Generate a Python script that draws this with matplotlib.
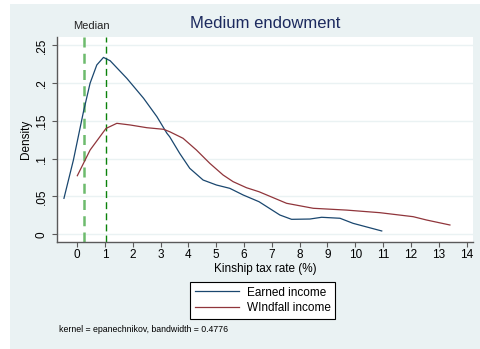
import matplotlib
matplotlib.use("Agg")
import matplotlib.pyplot as plt
from matplotlib.patches import Rectangle

plt.rcParams['font.family'] = ['Liberation Sans', 'DejaVu Sans']

# Kernel density estimates of the kinship tax rate (%)
earned_x = [-0.47, -0.13, 0.23, 0.47, 0.71, 0.95, 1.19, 1.79, 2.39, 2.87, 3.23, 3.33, 3.69,
            4.05, 4.53, 5.01, 5.49, 5.97, 6.54, 7.29, 7.71, 8.37, 8.79, 9.45, 9.92, 10.95]
earned_y = [0.0476, 0.0983, 0.162, 0.200, 0.224, 0.234, 0.2296, 0.2063, 0.180, 0.1556, 0.1336, 0.129, 0.107,
            0.0873, 0.0718, 0.0652, 0.0608, 0.052, 0.0431, 0.0255, 0.0198, 0.0202, 0.0225, 0.0212, 0.0145, 0.0044]

windfall_x = [0.01, 0.47, 1.04, 1.43, 1.91, 2.51, 3.11, 3.33, 3.81, 4.29, 4.77, 5.25, 5.61,
              6.09, 6.54, 7.53, 8.49, 9.69, 10.88, 12.08, 12.56, 13.4]
windfall_y = [0.0775, 0.1115, 0.140, 0.1468, 0.1446, 0.141, 0.1389, 0.1357, 0.127, 0.1115, 0.0939, 0.0784, 0.0696,
              0.0616, 0.0563, 0.041, 0.0344, 0.032, 0.0286, 0.0233, 0.0189, 0.0123]

medians = [0.24, 1.04]
x_ticks = list(range(0, 15))
y_ticks = [0, 0.05, 0.10, 0.15, 0.20, 0.25]
y_tick_labels = ["0", ".05", ".1", ".15", ".2", ".25"]

W, H = 480, 349
fig = plt.figure(figsize=(W / 100, H / 100), dpi=100, facecolor="white")
bg = "#EAF2F3"
fig.add_artist(Rectangle((10 / W, 0), 1 - 10 / W, 1 - 4 / H, transform=fig.transFigure,
                         facecolor=bg, edgecolor="none", zorder=-10))

left, right, top, bottom = 57, 473, 37, 241.7
ax = fig.add_axes([left / W, 1 - bottom / H, (right - left) / W, (bottom - top) / H])
ax.set_zorder(1)
ax.set_facecolor("white")
ax.set_xlim(-0.72, 14.23)
ax.set_ylim(-0.0098, 0.261)

for s in ["top", "right"]:
    ax.spines[s].set_visible(False)
for s in ["left", "bottom"]:
    ax.spines[s].set_color("#5a5a5a")
    ax.spines[s].set_linewidth(1.0)

ax.set_yticks(y_ticks)
ax.set_yticklabels(y_tick_labels, rotation=90, va="center")
ax.set_xticks(x_ticks)
ax.tick_params(axis="both", direction="out", length=3.5, width=0.8, color="#5a5a5a",
               labelsize=8.5, labelcolor="black")
ax.tick_params(axis="x", pad=2)
ax.tick_params(axis="y", pad=3)
ax.yaxis.grid(True, color=bg, linewidth=1.0)
ax.set_axisbelow(True)

ax.axvline(medians[0], color="#6dbb6d", linewidth=1.8, linestyle=(0, (4, 2.5)), zorder=2)
ax.axvline(medians[1], color="#0a820a", linewidth=1.0, linestyle=(0, (5, 3)), zorder=2)

l1, = ax.plot(earned_x, earned_y, color="#1a476f", linewidth=0.9, zorder=3, label="Earned income")
l2, = ax.plot(windfall_x, windfall_y, color="#90353b", linewidth=0.9, zorder=3, label="WIndfall income")

ax.set_xlabel("Kinship tax rate (%)", fontsize=8.5, labelpad=1)
ax.set_ylabel("Density", fontsize=8.5, labelpad=3)

fig.text(265 / W, 1 - 24 / H, "Medium endowment", ha="center", va="center",
         fontsize=12, color="#1c2a5e")
fig.text(91.7 / W, 1 - 26 / H, "Median", ha="center", va="center", fontsize=8, color="#222222")
fig.text(59 / W, 1 - 329 / H, "kernel = epanechnikov, bandwidth = 0.4776", ha="left", va="center",
         fontsize=6.3, color="black")

leg = fig.legend(handles=[l1, l2], loc="center",
                 bbox_to_anchor=((189 + 336.7) / 2 / W, 1 - (280.7 + 320) / 2 / H),
                 fontsize=8.5, frameon=True, fancybox=False, handlelength=3.7, handletextpad=0.7,
                 labelspacing=0.3, borderpad=0.4, borderaxespad=0)
leg.get_frame().set_edgecolor("black")
leg.get_frame().set_linewidth(0.8)
leg.get_frame().set_facecolor("white")
leg.get_frame().set_alpha(1)

fig.savefig("out.png", dpi=100, facecolor="white")
